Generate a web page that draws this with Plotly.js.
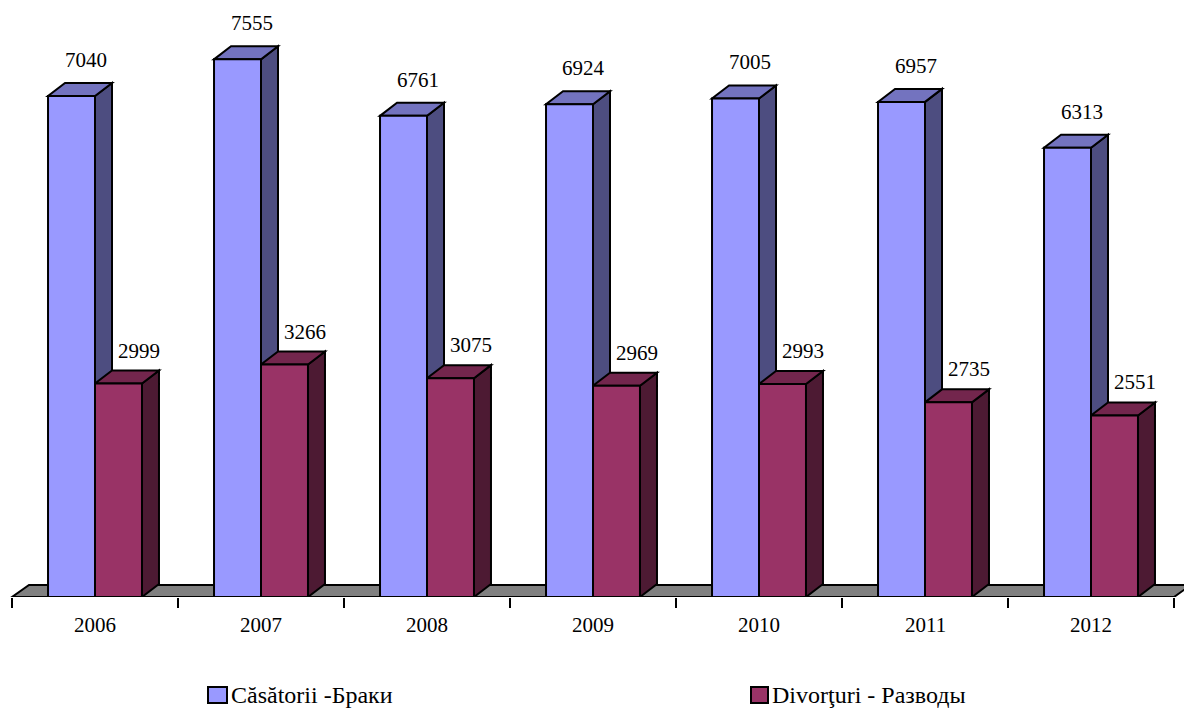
<!DOCTYPE html>
<html>
<head>
<meta charset="utf-8">
<script src="https://cdn.plot.ly/plotly-3.0.1.min.js"></script>
<style>html,body{margin:0;padding:0;background:#fff;}#chart{width:1184px;height:709px;}</style>
</head>
<body>
<div id="chart"></div>
<script>
// ---- data ----
const years = ['2006', '2007', '2008', '2009', '2010', '2011', '2012'];
const marriages = [7040, 7555, 6761, 6924, 7005, 6957, 6313];
const divorces = [2999, 3266, 3075, 2969, 2993, 2735, 2551];
const seriesNames = ['Căsătorii -Браки', 'Divorţuri - Разводы'];

// ---- styling / geometry ----
const W = 0.283;     // bar width (category units)
const DX = 0.1024;   // depth offset x (category units)
const DY = 183;      // depth offset y (value units)
const idx = years.map((_, i) => i);
const FONT = '"Liberation Serif", "Times New Roman", serif';
const PW = 1184, PT = 28, PB = 597, PH = PB - PT;

const blueFront = '#9999FF', blueSide = '#4D4D80', blueTop = '#7373BF';
const redFront = '#993366', redSide = '#4D1A33', redTop = '#73264D';
const seriesColors = [blueFront, redFront];

function poly(pts, fill) {
  return {
    type: 'path', xref: 'x', yref: 'y', layer: 'below',
    path: 'M' + pts.map(p => p[0] + ',' + p[1]).join(' L') + ' Z',
    fillcolor: fill, line: {color: '#000', width: 2}
  };
}

const n = years.length;
const shapes = [];
// floor
shapes.push(poly([[-0.5, 0], [n - 0.5, 0], [n - 0.5 + DX, DY * 0.93], [-0.5 + DX, DY * 0.93]], '#808080'));
idx.forEach(i => {
  const b = marriages[i], r = divorces[i];
  shapes.push(poly([[i, 0], [i, b], [i + DX, b + DY], [i + DX, DY]], blueSide));
  shapes.push(poly([[i - W, b], [i, b], [i + DX, b + DY], [i - W + DX, b + DY]], blueTop));
  shapes.push(poly([[i + W, 0], [i + W, r], [i + W + DX, r + DY], [i + W + DX, DY]], redSide));
  shapes.push(poly([[i, r], [i + W, r], [i + W + DX, r + DY], [i + DX, r + DY]], redTop));
});

const annotations = [];
idx.forEach(i => {
  annotations.push({x: i - 0.055, y: marriages[i] + DY, xref: 'x', yref: 'y', text: String(marriages[i]),
    showarrow: false, yshift: 23, font: {family: FONT, size: 21, color: '#000'}});
  annotations.push({x: i + 0.265, y: divorces[i] + DY, xref: 'x', yref: 'y', text: String(divorces[i]),
    showarrow: false, yshift: 20, font: {family: FONT, size: 21, color: '#000'}});
  annotations.push({x: i, y: 0, xref: 'x', yref: 'y', text: years[i], showarrow: false, yshift: -28,
    font: {family: FONT, size: 21, color: '#000'}});
});

// custom legend (swatch + label), positioned in paper coordinates
const legendBoxes = [[208, 227], [751, 768]];
seriesNames.forEach((name, k) => {
  const [x0, x1] = legendBoxes[k];
  shapes.push({type: 'rect', xref: 'paper', yref: 'paper', layer: 'above',
    x0: x0 / PW, x1: x1 / PW, y0: (PB - 703) / PH, y1: (PB - 687) / PH,
    fillcolor: seriesColors[k], line: {color: '#000', width: 2}});
  annotations.push({xref: 'paper', yref: 'paper', x: (x1 + 2) / PW, y: (PB - 695) / PH,
    xanchor: 'left', yanchor: 'middle', text: name, showarrow: false,
    font: {family: FONT, size: 24, color: '#000'}});
});

const traces = [
  {type: 'bar', name: seriesNames[0], x: idx, y: marriages, width: W, offset: -W,
   marker: {color: blueFront, line: {color: '#000', width: 2}}, hoverinfo: 'skip'},
  {type: 'bar', name: seriesNames[1], x: idx, y: divorces, width: W, offset: 0,
   marker: {color: redFront, line: {color: '#000', width: 2}}, hoverinfo: 'skip'}
];

const tickBounds = [];
for (let k = 0; k <= n; k++) tickBounds.push(k - 0.5);

const layout = {
  width: 1184, height: 709,
  margin: {l: 0, r: 0, t: PT, b: 709 - PB, autoexpand: false},
  paper_bgcolor: '#fff', plot_bgcolor: '#fff',
  barmode: 'overlay',
  showlegend: false,
  xaxis: {range: [-0.5 - 12 / 166, -0.5 - 12 / 166 + PW / 166], tickmode: 'array', tickvals: tickBounds,
    ticktext: tickBounds.map(() => ''), ticks: 'outside', ticklen: 10, tickwidth: 2, tickcolor: '#000',
    showgrid: false, zeroline: false, showline: false, fixedrange: true, automargin: false},
  yaxis: {range: [0, PH / 0.071165], visible: false, showgrid: false, zeroline: false, fixedrange: true},
  shapes: shapes,
  annotations: annotations,
  font: {family: FONT, size: 20, color: '#000'}
};

Plotly.newPlot('chart', traces, layout, {displayModeBar: false, staticPlot: true});
</script>
</body>
</html>
